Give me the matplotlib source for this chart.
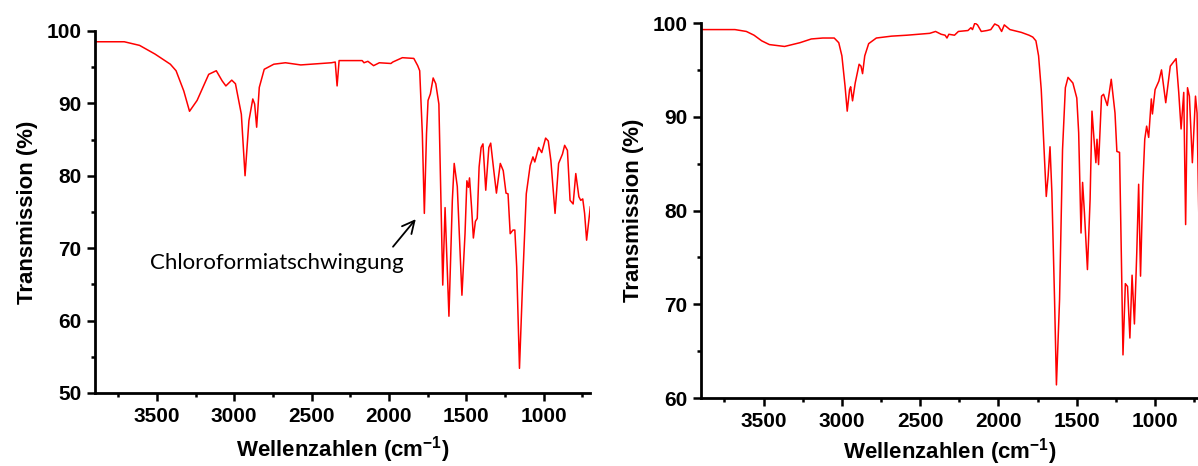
import matplotlib
matplotlib.use('Agg')
import matplotlib.pyplot as plt
from matplotlib.ticker import MultipleLocator

plt.rcParams['font.family'] = ['Liberation Sans', 'DejaVu Sans']
plt.rcParams['mathtext.fontset'] = 'custom'
plt.rcParams['mathtext.rm'] = 'Liberation Sans:bold'
plt.rcParams['mathtext.bf'] = 'Liberation Sans:bold'

# left spectrum: wavenumber (cm^-1) / transmission (%)
wn_left = [3897, 3711, 3612, 3512, 3413, 3376, 3326, 3289, 3240, 3165, 3116, 3078,
           3054, 3016, 2992, 2954, 2930, 2905, 2880, 2868, 2855, 2838, 2806, 2744,
           2669, 2570, 2372, 2347, 2335, 2322, 2173, 2161, 2136, 2099, 2062, 1987,
           1975, 1913, 1839, 1814, 1801, 1784, 1771, 1757, 1747, 1732, 1714, 1697,
           1677, 1652, 1637, 1612, 1590, 1578, 1558, 1528, 1508, 1496, 1486, 1479,
           1466, 1454, 1441, 1429, 1417, 1404, 1392, 1374, 1354, 1342, 1322, 1305,
           1280, 1261, 1243, 1230, 1216, 1198, 1186, 1174, 1156, 1136, 1112, 1087,
           1069, 1057, 1032, 1012, 987, 970, 953, 926, 903, 878, 864, 846,
           829, 809, 792, 772, 760, 747, 735, 722, 698]
tr_left = [98.5, 98.5, 98.0, 96.8, 95.4, 94.5, 91.7, 88.9, 90.4, 94.0, 94.5, 93.1,
           92.4, 93.2, 92.7, 88.5, 80.0, 87.6, 90.6, 89.9, 86.7, 92.2, 94.7, 95.4,
           95.6, 95.3, 95.6, 95.7, 92.4, 95.9, 95.9, 95.6, 95.8, 95.2, 95.6, 95.5,
           95.7, 96.3, 96.2, 95.2, 94.5, 85.8, 74.8, 85.8, 90.4, 91.3, 93.5, 92.7,
           89.9, 64.9, 75.6, 60.6, 76.6, 81.7, 78.5, 63.5, 72.0, 79.3, 78.4, 79.7,
           75.7, 71.4, 73.7, 74.1, 81.2, 83.9, 84.4, 78.0, 83.9, 84.5, 80.7, 77.6,
           81.7, 80.7, 77.6, 77.5, 72.0, 72.5, 72.5, 67.4, 53.4, 65.1, 77.5, 81.4,
           82.6, 81.9, 83.9, 83.2, 85.2, 84.8, 82.1, 74.8, 81.7, 83.0, 84.2, 83.5,
           76.6, 76.1, 80.3, 77.1, 76.6, 76.8, 74.8, 71.1, 75.7]

# right spectrum
wn_right = [3890, 3683, 3610, 3561, 3512, 3463, 3366, 3268, 3195, 3122, 3049, 3020,
            3000, 2980, 2966, 2951, 2944, 2932, 2915, 2890, 2878, 2868, 2854, 2829,
            2780, 2683, 2585, 2439, 2402, 2366, 2341, 2329, 2317, 2281, 2256, 2195,
            2176, 2166, 2151, 2134, 2110, 2073, 2049, 2024, 2000, 1980, 1963, 1927,
            1854, 1805, 1781, 1761, 1744, 1727, 1712, 1695, 1683, 1671, 1659, 1642,
            1630, 1610, 1591, 1573, 1556, 1525, 1500, 1488, 1473, 1463, 1451, 1432,
            1415, 1403, 1390, 1378, 1371, 1361, 1342, 1329, 1305, 1280, 1256, 1244,
            1227, 1215, 1205, 1190, 1176, 1161, 1147, 1132, 1117, 1105, 1093, 1078,
            1066, 1054, 1041, 1024, 1017, 1000, 976, 959, 932, 903, 866, 849,
            834, 817, 805, 793, 781, 762, 742, 732, 720]
tr_right = [99.3, 99.3, 99.1, 98.7, 98.1, 97.7, 97.5, 97.9, 98.3, 98.4, 98.4, 97.9,
            96.5, 93.3, 90.6, 92.9, 93.2, 91.7, 93.6, 95.6, 95.4, 94.6, 96.5, 97.8,
            98.4, 98.6, 98.7, 98.9, 99.1, 98.8, 98.7, 98.4, 98.8, 98.7, 99.1, 99.2,
            99.5, 99.3, 100.0, 99.8, 99.1, 99.2, 99.3, 99.9, 99.7, 99.1, 99.8, 99.3,
            99.0, 98.7, 98.5, 98.1, 96.5, 92.9, 87.6, 81.5, 83.7, 86.8, 81.9, 70.5,
            61.4, 70.5, 86.5, 93.1, 94.2, 93.6, 92.0, 88.3, 77.6, 83.0, 79.7, 73.7,
            81.2, 90.6, 87.6, 85.1, 87.6, 84.9, 92.2, 92.4, 91.2, 94.0, 90.4, 86.3,
            86.2, 74.7, 64.6, 72.2, 71.9, 66.4, 73.1, 67.9, 75.5, 82.8, 73.0, 82.8,
            87.6, 89.0, 87.8, 91.9, 90.3, 92.9, 93.8, 95.0, 91.5, 95.4, 96.2, 92.6,
            88.7, 92.6, 78.5, 93.1, 92.2, 85.1, 92.2, 90.4, 78.7]

label_text = 'Chloroformiatschwingung'
xlabel = r'Wellenzahlen (cm$^{-1}$)'
ylabel = 'Transmission (%)'


def style_axes(ax, xlim, ylim, xpad):
    ax.set_xlim(*xlim)
    ax.set_ylim(*ylim)
    ax.xaxis.set_major_locator(MultipleLocator(500))
    ax.xaxis.set_minor_locator(MultipleLocator(250))
    ax.yaxis.set_major_locator(MultipleLocator(10))
    ax.yaxis.set_minor_locator(MultipleLocator(5))
    for side in ('top', 'right'):
        ax.spines[side].set_visible(False)
    for side in ('left', 'bottom'):
        ax.spines[side].set_linewidth(2)
    ax.tick_params(which='major', direction='out', length=5.8, width=1.8,
                   labelsize=15, pad=4)
    ax.tick_params(which='minor', direction='out', length=3, width=1.8)
    for lab in ax.get_xticklabels() + ax.get_yticklabels():
        lab.set_fontweight('bold')
    ax.set_xlabel(xlabel, fontsize=16, fontweight='bold', labelpad=xpad)
    ax.set_ylabel(ylabel, fontsize=16, fontweight='bold', labelpad=6)


fig = plt.figure(figsize=(11.98, 4.66), dpi=100)

ax1 = fig.add_axes([0.0793, 0.1567, 0.4132, 0.777])
ax1.plot(wn_left, tr_left, color='#ff0000', lw=1.1)
style_axes(ax1, (3900, 700), (50, 100), 6)
ax1.annotate('', xy=(1815, 74.3), xytext=(1985, 69.9),
             arrowprops=dict(arrowstyle='->', color='black', lw=1.3,
                             mutation_scale=22))
ax1.text(3546, 67.9, label_text, ha='left', va='center', fontsize=16,
         family=['Lato', 'DejaVu Sans'])

ax2 = fig.add_axes([0.5851, 0.1459, 0.4149, 0.8047])
ax2.plot(wn_right, tr_right, color='#ff0000', lw=1.1)
style_axes(ax2, (3900, 726), (60, 100), 4)

fig.savefig('out.png', dpi=100)
